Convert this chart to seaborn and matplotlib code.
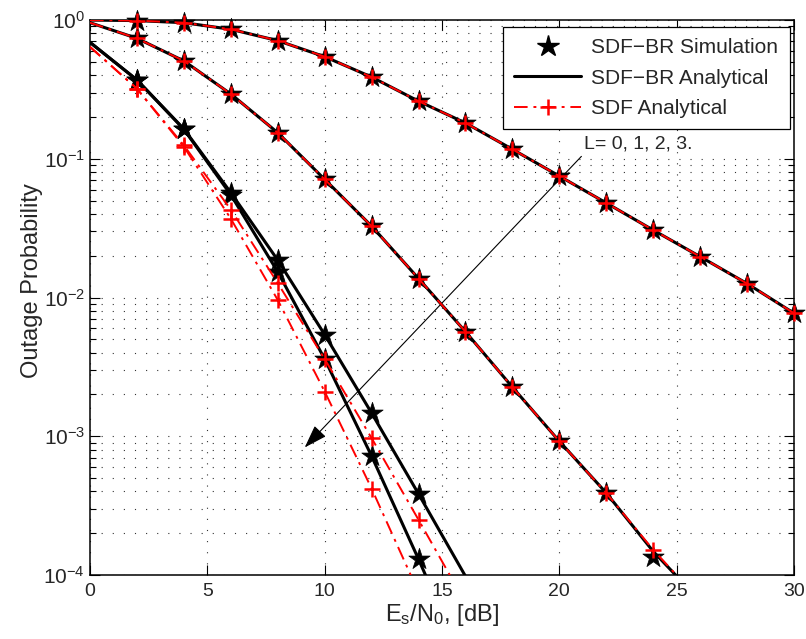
import numpy as np
import pandas as pd
import matplotlib
matplotlib.use("Agg")
import matplotlib.pyplot as plt
from matplotlib.lines import Line2D
from matplotlib.ticker import LogLocator, LogFormatterSciNotation, NullFormatter, MultipleLocator
import seaborn as sns

# SNR grid (dB)
snr = [0, 2, 4, 6, 8, 10, 12, 14, 16, 18, 20, 22, 24, 26, 28, 30]

# SDF-BR analytical outage probability, one list per L
br_ana_L0 = [0.999, 0.99, 0.956, 0.857, 0.71, 0.544, 0.388, 0.26, 0.181, 0.117,
             0.075, 0.048, 0.0306, 0.0197, 0.0126, 0.0077]
br_ana_L1 = [0.956, 0.738, 0.507, 0.293, 0.154, 0.071, 0.0327, 0.0137, 0.00567,
             0.00226, 0.00092, 0.00039, 0.000148, 6.5e-5]
br_ana_L2 = [0.69, 0.37, 0.164, 0.057, 0.0186, 0.0054, 0.00147, 0.000384, 9.8e-5]
br_ana_L3 = [0.69, 0.37, 0.163, 0.055, 0.0153, 0.0036, 0.00072, 0.00013, 2.2e-5]

# SDF-BR simulation points
br_sim_L0 = [0.99, 0.956, 0.857, 0.71, 0.544, 0.388, 0.26, 0.181, 0.117,
             0.075, 0.048, 0.0306, 0.0197, 0.0126, 0.0077]
br_sim_L1 = [0.738, 0.507, 0.293, 0.154, 0.071, 0.0327, 0.0137, 0.00567,
             0.00226, 0.00092, 0.00039, 0.000135]
br_sim_L2 = [0.37, 0.164, 0.057, 0.0186, 0.0054, 0.00147, 0.000384]
br_sim_L3 = [0.37, 0.163, 0.055, 0.0153, 0.0036, 0.00072, 0.00013]

# SDF analytical (no best-relay selection)
sdf_L0 = br_ana_L0
sdf_L1 = [0.956, 0.738, 0.507, 0.293, 0.154, 0.071, 0.0327, 0.0137, 0.00567,
          0.00226, 0.00092, 0.00039, 0.000152, 6.5e-5]
sdf_L2 = [0.64, 0.32, 0.125, 0.043, 0.0127, 0.0036, 0.00097, 0.00025, 6.3e-5]
sdf_L3 = [0.64, 0.32, 0.122, 0.037, 0.0096, 0.0021, 0.00042, 7.5e-5]

legend_labels = ["SDF\u2212BR Simulation", "SDF\u2212BR Analytical", "SDF Analytical"]
arrow_label = "L= 0, 1, 2, 3."

sns.set_theme(style="ticks")
plt.rcParams["font.family"] = ["Liberation Sans", "DejaVu Sans"]
plt.rcParams["mathtext.fontset"] = "custom"
plt.rcParams["mathtext.rm"] = "Liberation Sans"
plt.rcParams["mathtext.it"] = "Liberation Sans:italic"
plt.rcParams["mathtext.default"] = "regular"

FS = 14
LABEL_FS = 17
fig = plt.figure(figsize=(8.06, 6.39), dpi=100)
ax = fig.add_axes([90 / 806, 1 - 575 / 639, 704 / 806, 555 / 639])

ax.set_yscale("log")
ax.set_xlim(0, 30)
ax.set_ylim(1e-4, 1)

grid_kw = dict(color="0.2", linestyle=(0, (1, 9)), linewidth=0.8)
ax.grid(True, which="major", axis="both", **grid_kw)
ax.grid(True, which="minor", axis="y", **grid_kw)
ax.set_axisbelow(True)

ana = [br_ana_L0, br_ana_L1, br_ana_L2, br_ana_L3]
sim = [br_sim_L0, br_sim_L1, br_sim_L2, br_sim_L3]
sdf = [sdf_L0, sdf_L1, sdf_L2, sdf_L3]

# analytical SDF-BR curves
for vals in ana:
    df = pd.DataFrame({"snr": snr[:len(vals)], "p": vals})
    sns.lineplot(data=df, x="snr", y="p", ax=ax, color="black", linewidth=2.2,
                 estimator=None, sort=False, legend=False)

# simulation markers (stars)
for vals in sim:
    df = pd.DataFrame({"snr": snr[1:1 + len(vals)], "p": vals})
    sns.scatterplot(data=df, x="snr", y="p", ax=ax, marker="*", s=260,
                    color="black", edgecolor="black", linewidth=0.5,
                    legend=False, clip_on=False, zorder=4)

# SDF analytical curves, dash-dot with plus markers
for vals in sdf:
    x = snr[:len(vals)]
    df = pd.DataFrame({"snr": x, "p": vals})
    sns.lineplot(data=df, x="snr", y="p", ax=ax, color="red", linewidth=1.4,
                 linestyle=(0, (7, 3, 1.5, 3)), estimator=None, sort=False,
                 legend=False, zorder=5)
    v = np.array(vals, dtype=float)
    keep = (v >= 1e-4) & (np.array(x) > 0)
    mk = pd.DataFrame({"snr": np.array(x)[keep], "p": v[keep]})
    sns.scatterplot(data=mk, x="snr", y="p", ax=ax, marker="+", s=130,
                    color="red", linewidth=1.8, legend=False, clip_on=False,
                    zorder=6)

ax.set_xlabel(r"$E_s/N_0$, [dB]", fontsize=LABEL_FS, labelpad=1)
ax.set_ylabel("Outage Probability", fontsize=LABEL_FS)
ax.yaxis.set_label_coords(-0.067, 0.53)

ax.xaxis.set_major_locator(MultipleLocator(5))
ax.yaxis.set_major_locator(LogLocator(base=10, numticks=10))
ax.yaxis.set_major_formatter(LogFormatterSciNotation())
ax.yaxis.set_minor_locator(LogLocator(base=10, subs=np.arange(2, 10), numticks=20))
ax.yaxis.set_minor_formatter(NullFormatter())
ax.tick_params(which="both", direction="in", top=True, right=True,
               labelsize=FS, color="black", width=0.8)
ax.tick_params(axis="y", which="major", labelsize=FS + 1)
ax.tick_params(which="major", length=7)
ax.tick_params(which="minor", length=4)
ax.tick_params(axis="x", which="major", pad=6)
for s in ax.spines.values():
    s.set_color("black")
    s.set_linewidth(1.1)

ax.annotate("", xy=(9.15, 8.3e-4), xytext=(20.94, 0.104),
            arrowprops=dict(arrowstyle="-|>,head_length=1.2,head_width=0.4",
                            color="black", lw=0.8, shrinkA=0, shrinkB=0))
ax.text(21.05, 0.128, arrow_label, fontsize=FS, ha="left", va="center")

handles = [
    Line2D([], [], linestyle="none", marker="*", markersize=16, color="black"),
    Line2D([], [], color="black", linewidth=2.2),
    Line2D([], [], color="red", linewidth=1.4, linestyle=(0, (7, 3, 1.5, 3)),
           marker="+", markersize=11, markeredgewidth=1.8),
]
leg = ax.legend(handles, legend_labels, loc="upper right",
                bbox_to_anchor=(0.994, 0.988), borderaxespad=0, fontsize=FS + 1,
                frameon=True, fancybox=False, framealpha=1, edgecolor="black",
                handlelength=3.2, handletextpad=0.5, borderpad=0.55,
                labelspacing=0.55)
leg.get_frame().set_linewidth(0.9)

fig.savefig("out.png", dpi=100)
